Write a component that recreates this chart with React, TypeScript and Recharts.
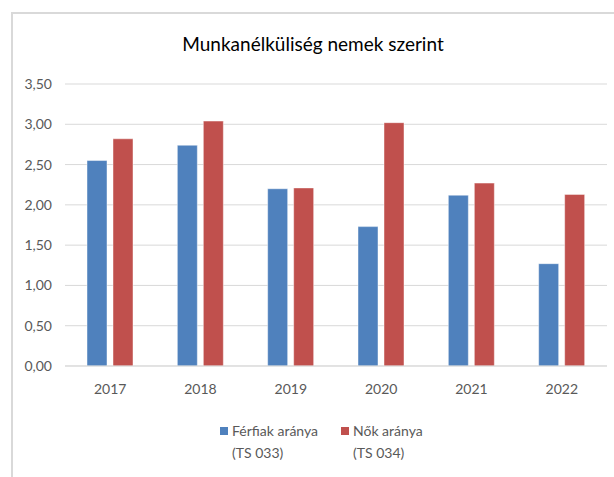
import { Bar, BarChart, CartesianGrid, Legend, XAxis, YAxis } from "recharts";

const years = ["2017", "2018", "2019", "2020", "2021", "2022"];
const ferfiak = [2.55, 2.74, 2.2, 1.73, 2.12, 1.27];
const nok = [2.82, 3.04, 2.21, 3.02, 2.27, 2.13];
const yTicks = [0, 0.5, 1, 1.5, 2, 2.5, 3, 3.5];

const data = years.map((year, i) => ({ year, ferfiak: ferfiak[i], nok: nok[i] }));

const font = "Lato, 'Open Sans', sans-serif";
const textGrey = "#595959";

function LegendBox() {
  const item = (color: string, line1: string, line2: string, left: number) => (
    <div style={{ position: "absolute", left, top: 0, display: "flex", alignItems: "flex-start" }}>
      <span style={{ width: 8, height: 8, background: color, marginTop: 7, marginRight: 4 }} />
      <div style={{ lineHeight: "22px" }}>
        <div>{line1}</div>
        <div>{line2}</div>
      </div>
    </div>
  );
  return (
    <div style={{ position: "relative", height: 76, paddingTop: 24, boxSizing: "border-box", fontFamily: font, fontSize: 14, color: textGrey }}>
      <div style={{ position: "relative" }}>
        {item("#4F81BD", "Férfiak aránya", "(TS 033)", 220)}
        {item("#C0504D", "Nők aránya", "(TS 034)", 341)}
      </div>
    </div>
  );
}

export default function App() {
  return (
    <div style={{ position: "absolute", left: 0, top: 0, width: 614, height: 477, background: "#fff", overflow: "hidden" }}>
      {/* chart frame: only top and left edges are visible in the crop */}
      <div style={{ position: "absolute", left: 11, top: 12, width: 620, height: 480, borderTop: "2px solid #d9d9d9", borderLeft: "2px solid #d9d9d9" }} />
      <div style={{ position: "absolute", left: 12, width: 602, top: 32, textAlign: "center", fontFamily: font, fontSize: 19, color: "#000" }}>
        Munkanélküliség nemek szerint
      </div>
      <div style={{ position: "absolute", left: 0, top: 0 }}>
        <BarChart width={614} height={477} data={data} margin={{ top: 84, right: 7, left: 0, bottom: 5 }} barSize={20} barGap={6}>
          <CartesianGrid vertical={false} stroke="#d9d9d9" />
          <XAxis
            dataKey="year"
            height={30}
            axisLine={{ stroke: "#d9d9d9" }}
            tickLine={false}
            tickMargin={12}
            tick={{ fontSize: 14, fill: textGrey, fontFamily: font }}
          />
          <YAxis
            width={65}
            domain={[0, 3.5]}
            ticks={yTicks}
            axisLine={false}
            tickLine={false}
            tickMargin={7}
            tickFormatter={(v: number) => v.toFixed(2).replace(".", ",")}
            tick={{ fontSize: 14, fill: textGrey, fontFamily: font }}
          />
          <Legend verticalAlign="bottom" content={() => <LegendBox />} />
          <Bar dataKey="ferfiak" name="Férfiak aránya (TS 033)" fill="#4F81BD" stroke="#ffffff" strokeOpacity={0.45} isAnimationActive={false} />
          <Bar dataKey="nok" name="Nők aránya (TS 034)" fill="#C0504D" stroke="#ffffff" strokeOpacity={0.45} isAnimationActive={false} />
        </BarChart>
      </div>
    </div>
  );
}
